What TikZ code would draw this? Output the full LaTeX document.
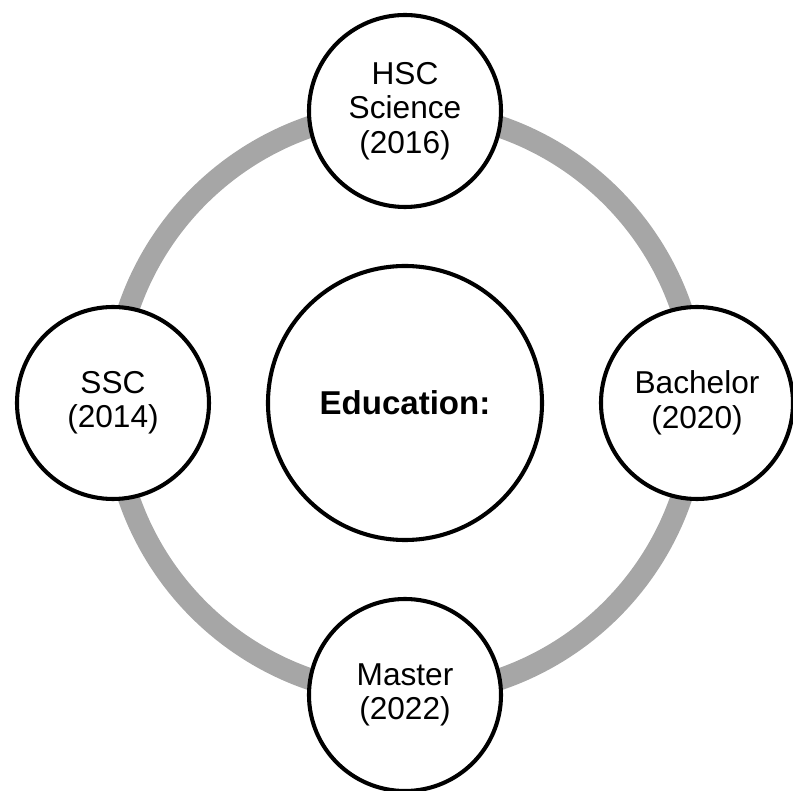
\documentclass[tikz,border=0pt]{standalone}
\usepackage{fontspec}
\setmainfont{Liberation Sans}
\usepackage{xcolor}
\usepackage{tikz}
\usetikzlibrary{positioning, backgrounds}
\definecolor{ringgray}{RGB}{166, 166, 166}

\begin{document}
\begin{tikzpicture}[
        node distance=7.3cm, on grid,
        stage/.style={circle, draw=black, line width=2.9pt, fill=white, minimum size=4.8cm, align=center, inner sep=0pt, font=\fontsize{22.5pt}{24.5pt}\selectfont},
        hub/.style={stage, minimum size=6.85cm, font=\fontsize{23.5pt}{26pt}\selectfont\bfseries},
        ring/.style={draw=ringgray, line width=15.5pt}
    ]
        \useasboundingbox (-10.125,-9.7) rectangle (9.7,10.075);
        \node[hub] (edu) at (0,0) {Education:};
        \node[stage, above=of edu] (hsc) {HSC\\Science\\(2016)};
        \node[stage, left=of edu] (ssc) {SSC\\(2014)};
        \node[stage, right=of edu] (bachelor) {Bachelor\\(2020)};
        \node[stage, below=of edu] (master) {Master\\(2022)};
        
        \begin{scope}[on background layer]
            \draw[ring] (edu.center) circle[radius=7.3cm];
        \end{scope}
    \end{tikzpicture}
\end{document}
